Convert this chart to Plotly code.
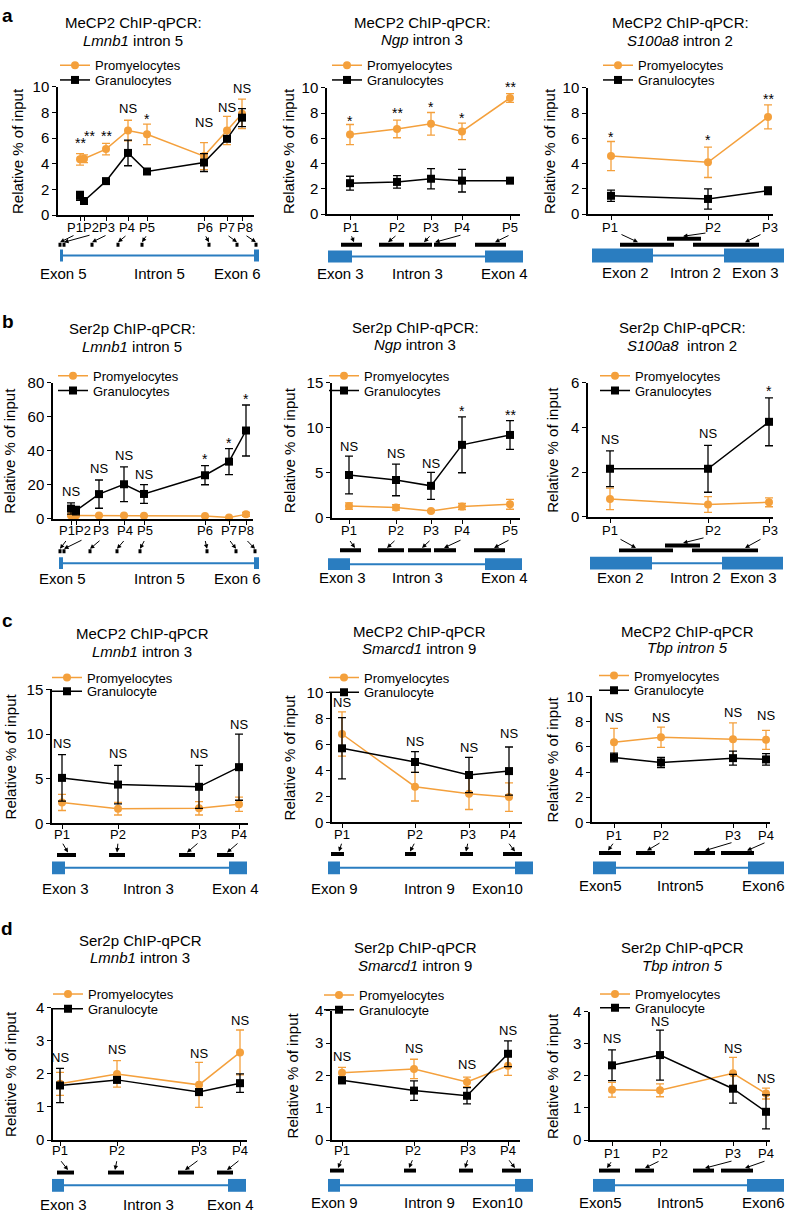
import plotly.graph_objects as go

FIG_W, FIG_H = 788, 1219
ORANGE = "#F4A03C"
BLACK = "#000000"
BLUE = "#2A7DC0"
FONT = "Liberation Sans, Arial, Helvetica, sans-serif"

# ======================= DATA =======================
# positions are probe positions along the locus (a.u.)
# ---- a1: MeCP2, Lmnb1 intron 5
a1_pos = [22, 26, 48, 70, 89, 146, 169, 184]
a1_label_x = [17, 33, 49, 69, 89, 147, 169, 187]
a1_promy = [4.35, 4.4, 5.15, 6.6, 6.3, 4.6, 6.6, 7.9]
a1_promy_err = [0.45, 0.3, 0.45, 0.8, 0.8, 1.05, 1.1, 1.15]
a1_gran = [1.5, 1.1, 2.65, 4.85, 3.4, 4.1, 5.95, 7.6]
a1_gran_err = [0.35, 0.2, 0.15, 1.0, 0.1, 0.7, 0.2, 0.7]
a1_sig = ["**", "**", "**", "NS", "*", "NS", "NS", "NS"]
a1_sig_x = [22, 31, 48, 70, 89, 146, 169, 184]
a1_sig_y = [5.9, 6.5, 6.45, 8.3, 7.8, 7.2, 8.4, 9.85]
a1_exon_start = [2, 196]
a1_exon_end = [5, 201]
a1_primer_start = [0.5, 4.5, 32.5, 58.5, 82.5, 149.5, 177.5, 196.5]
a1_primer_end = [3.5, 7.5, 35.5, 61.5, 85.5, 152.5, 180.5, 199.5]
a1_primer_y = [11, 11, 11, 11, 11, 11, 11, 11]
a1_arrow_x = [2, 6, 34, 60, 84, 151, 179, 198]
a1_exon_labels = ["Exon 5", "Intron 5", "Exon 6"]
a1_exon_label_x = [5, 101, 179]

# ---- a2: MeCP2, Ngp intron 3
a2_pos = [23, 70, 104, 135, 183]
a2_label_x = [24, 70, 104, 135, 183]
a2_promy = [6.3, 6.75, 7.15, 6.55, 9.2]
a2_promy_err = [0.8, 0.7, 0.9, 0.65, 0.35]
a2_gran = [2.45, 2.55, 2.8, 2.65, 2.65]
a2_gran_err = [0.55, 0.5, 0.8, 0.9, 0.05]
a2_sig = ["*", "**", "*", "*", "**"]
a2_sig_y = [7.7, 8.3, 8.8, 7.9, 10.4]
a2_exon_start = [1, 158]
a2_exon_end = [25, 196]
a2_primer_start = [14, 52, 82, 107, 148]
a2_primer_end = [35, 77, 105, 129, 179]
a2_primer_y = [12, 12, 12, 12, 12]
a2_arrow_x = [27, 61, 97, 108, 168]
a2_exon_labels = ["Exon 3", "Intron 3", "Exon 4"]
a2_exon_label_x = [13, 90, 177]

# ---- a3: MeCP2, S100a8 intron 2
a3_pos = [23, 120, 180]
a3_label_x = [22, 125, 182]
a3_promy = [4.6, 4.1, 7.7]
a3_promy_err = [1.15, 1.2, 0.95]
a3_gran = [1.45, 1.2, 1.85]
a3_gran_err = [0.45, 0.8, 0.3]
a3_sig = ["*", "*", "**"]
a3_sig_y = [6.4, 6.15, 9.4]
a3_exon_start = [4, 136]
a3_exon_end = [65, 196]
a3_primer_start = [32, 79, 105]
a3_primer_end = [86, 113, 171]
a3_primer_y = [11, 17, 11]
a3_arrow_x = [50, 95, 157]
a3_tail_x = [32, 119, 174]
a3_exon_labels = ["Exon 2", "Intron 2", "Exon 3"]
a3_exon_label_x = [37, 107, 167]

# ---- b1: Ser2p, Lmnb1 intron 5
b1_pos = [18, 23, 46, 71, 91, 152, 176, 193]
b1_label_x = [14, 30, 48, 72, 92, 152, 176, 193]
b1_promy = [2.0, 2.0, 1.9, 1.9, 1.8, 1.6, 0.8, 2.6]
b1_promy_err = [0.4, 0.4, 0.3, 0.3, 0.3, 0.3, 0.2, 1.2]
b1_gran = [6.0, 4.8, 14.5, 20.3, 14.6, 25.6, 33.6, 51.9]
b1_gran_err = [3.3, 2.5, 8.3, 10.2, 5.5, 5.6, 7.6, 15.0]
b1_sig = ["NS", "", "NS", "NS", "NS", "*", "*", "*"]
b1_sig_y = [16, 0, 29.5, 37, 26, 37.5, 47, 72.8]
b1_exon_start = [6, 201]
b1_exon_end = [10, 206]
b1_primer_start = [5.5, 9.5, 35.5, 62.5, 85.5, 152.5, 181.5, 200.5]
b1_primer_end = [8.5, 12.5, 38.5, 65.5, 88.5, 155.5, 184.5, 203.5]
b1_primer_y = [12, 12, 12, 12, 12, 12, 12, 12]
b1_arrow_x = [7, 11, 37, 64, 87, 154, 183, 202]
b1_exon_labels = ["Exon 5", "Intron 5", "Exon 6"]
b1_exon_label_x = [9, 106, 184]

# ---- b2: Ser2p, Ngp intron 3
b2_pos = [17, 64, 99, 130, 178]
b2_label_x = [17, 64, 99, 130, 178]
b2_promy = [1.3, 1.15, 0.75, 1.25, 1.5]
b2_promy_err = [0.35, 0.3, 0.1, 0.35, 0.55]
b2_gran = [4.75, 4.2, 3.55, 8.1, 9.2]
b2_gran_err = [2.1, 1.75, 1.5, 3.1, 1.6]
b2_sig = ["NS", "NS", "NS", "*", "**"]
b2_sig_y = [7.9, 7.1, 6.0, 12.3, 11.9]
b2_exon_start = [-4, 153]
b2_exon_end = [18, 190]
b2_primer_start = [8, 46, 76, 102, 142]
b2_primer_end = [29, 72, 99, 124, 173]
b2_primer_y = [14, 14, 14, 14, 14]
b2_arrow_x = [23, 55, 90, 112, 162]
b2_exon_labels = ["Exon 3", "Intron 3", "Exon 4"]
b2_exon_label_x = [10, 85, 172]

# ---- b3: Ser2p, S100a8 intron 2
b3_pos = [22, 120, 181]
b3_label_x = [22, 125, 182]
b3_promy = [0.8, 0.55, 0.65]
b3_promy_err = [0.48, 0.35, 0.2]
b3_gran = [2.15, 2.15, 4.25]
b3_gran_err = [0.8, 1.05, 1.07]
b3_sig = ["NS", "NS", "*"]
b3_sig_y = [3.45, 3.75, 5.8]
b3_exon_start = [2, 134]
b3_exon_end = [64, 195]
b3_primer_start = [31, 77, 104]
b3_primer_end = [85, 112, 170]
b3_primer_y = [13, 18, 13]
b3_arrow_x = [48, 95, 157]
b3_tail_x = [31, 117, 174]
b3_exon_labels = ["Exon 2", "Intron 2", "Exon 3"]
b3_exon_label_x = [32, 107, 165]

# ---- c1: MeCP2, Lmnb1 intron 3
c1_pos = [10, 66, 147, 187]
c1_label_x = [10, 66, 147, 187]
c1_promy = [2.35, 1.65, 1.7, 2.15]
c1_promy_err = [0.9, 0.7, 0.75, 0.8]
c1_gran = [5.1, 4.35, 4.1, 6.3]
c1_gran_err = [2.6, 2.15, 2.4, 3.7]
c1_sig = ["NS", "NS", "NS", "NS"]
c1_sig_y = [8.9, 7.8, 7.8, 11.1]
c1_exon_start = [0, 177]
c1_exon_end = [13, 195]
c1_primer_start = [5, 57, 127, 165]
c1_primer_end = [24, 73, 143, 182]
c1_primer_y = [13, 13, 13, 13]
c1_arrow_x = [16, 65, 135, 175]
c1_exon_labels = ["Exon 3", "Intron 3", "Exon 4"]
c1_exon_label_x = [13, 96, 183]

# ---- c2: MeCP2, Smarcd1 intron 9
c2_pos = [10, 83, 137, 177]
c2_label_x = [10, 83, 136, 176]
c2_promy = [6.8, 2.75, 2.2, 1.95]
c2_promy_err = [1.7, 1.1, 1.2, 1.1]
c2_gran = [5.7, 4.65, 3.65, 3.95]
c2_gran_err = [2.35, 0.8, 1.35, 1.85]
c2_sig = ["NS", "NS", "NS", "NS"]
c2_sig_y = [9.25, 6.25, 5.75, 6.85]
c2_exon_start = [-4, 183]
c2_exon_end = [8, 201]
c2_primer_start = [-1, 73, 128, 171]
c2_primer_end = [12, 84, 141, 190]
c2_primer_y = [14, 14, 14, 14]
c2_arrow_x = [7, 78, 134, 183]
c2_exon_labels = ["Exon 9", "Intron 9", "Exon10"]
c2_exon_label_x = [2, 97, 165]

# ---- c3: MeCP2, Tbp intron 5
c3_pos = [22, 69, 141, 174]
c3_label_x = [22, 69, 141, 174]
c3_promy = [6.35, 6.75, 6.6, 6.55]
c3_promy_err = [1.1, 0.8, 1.3, 0.75]
c3_gran = [5.15, 4.75, 5.1, 5.0]
c3_gran_err = [0.35, 0.4, 0.55, 0.45]
c3_sig = ["NS", "NS", "NS", "NS"]
c3_sig_y = [8.3, 8.3, 8.7, 8.5]
c3_exon_start = [1, 156]
c3_exon_end = [24, 192]
c3_primer_start = [7, 44, 102, 129]
c3_primer_end = [29, 63, 123, 162]
c3_primer_y = [15, 15, 15, 15]
c3_arrow_x = [16, 55, 113, 155]
c3_exon_labels = ["Exon5", "Intron5", "Exon6"]
c3_exon_label_x = [8, 88, 171]

# ---- d1: Ser2p, Lmnb1 intron 3
d1_pos = [7, 64, 146, 187]
d1_label_x = [7, 64, 146, 187]
d1_promy = [1.7, 2.0, 1.67, 2.65]
d1_promy_err = [0.35, 0.4, 0.68, 0.68]
d1_gran = [1.65, 1.82, 1.45, 1.72]
d1_gran_err = [0.52, 0.08, 0.1, 0.28]
d1_sig = ["NS", "NS", "NS", "NS"]
d1_sig_y = [2.5, 2.75, 2.62, 3.62]
d1_exon_start = [-1, 175]
d1_exon_end = [11, 193]
d1_primer_start = [4, 55, 125, 164]
d1_primer_end = [21, 71, 141, 180]
d1_primer_y = [13, 13, 13, 13]
d1_arrow_x = [15, 62, 132, 174]
d1_exon_labels = ["Exon 3", "Intron 3", "Exon 4"]
d1_exon_label_x = [10, 95, 177]

# ---- d2: Ser2p, Smarcd1 intron 9
d2_pos = [10, 82, 135, 176]
d2_label_x = [10, 81, 136, 176]
d2_promy = [2.08, 2.2, 1.8, 2.3]
d2_promy_err = [0.17, 0.3, 0.15, 0.3]
d2_gran = [1.85, 1.53, 1.37, 2.67]
d2_gran_err = [0.1, 0.3, 0.25, 0.4]
d2_sig = ["NS", "NS", "NS", "NS"]
d2_sig_y = [2.58, 2.84, 2.33, 3.4]
d2_exon_start = [-4, 183]
d2_exon_end = [8, 201]
d2_primer_start = [-2, 72, 127, 170]
d2_primer_end = [12, 84, 141, 189]
d2_primer_y = [15, 15, 15, 15]
d2_arrow_x = [6, 77, 133, 183]
d2_exon_labels = ["Exon 9", "Intron 9", "Exon10"]
d2_exon_label_x = [2, 97, 165]

# ---- d3: Ser2p, Tbp intron 5
d3_pos = [22, 70, 143, 176]
d3_label_x = [22, 70, 143, 176]
d3_promy = [1.57, 1.55, 2.08, 1.45]
d3_promy_err = [0.23, 0.2, 0.5, 0.17]
d3_gran = [2.33, 2.65, 1.6, 0.88]
d3_gran_err = [0.48, 0.78, 0.45, 0.53]
d3_sig = ["NS", "NS", "NS", "NS"]
d3_sig_y = [3.18, 3.71, 2.86, 1.91]
d3_exon_start = [3, 157]
d3_exon_end = [25, 194]
d3_primer_start = [9, 45, 103, 131]
d3_primer_end = [30, 64, 124, 163]
d3_primer_y = [15, 15, 15, 15]
d3_arrow_x = [17, 55, 115, 155]
d3_exon_labels = ["Exon5", "Intron5", "Exon6"]
d3_exon_label_x = [10, 90, 173]

# ======================= PANEL SETUP (layout in pixels) =======================
G = globals()


def panel(key, title1, title2, gran_name, geom):
    d = dict(key=key, title1=title1, title2=title2, gran_name=gran_name)
    for f in ["pos", "label_x", "promy", "promy_err", "gran", "gran_err", "sig", "sig_y",
              "exon_start", "exon_end", "primer_start", "primer_end", "primer_y",
              "arrow_x", "exon_labels", "exon_label_x"]:
        d[f] = G[f"{key}_{f}"]
    d["sig_x"] = G.get(f"{key}_sig_x", d["pos"])
    d["tail_x"] = G.get(f"{key}_tail_x", d["label_x"])
    d.update(geom)
    return d


P = [
    panel("a1", "MeCP2 ChIP-qPCR:", "<i>Lmnb1</i> intron 5", "Granulocytes",
          dict(x0=58, x1=254, top=79, bot=209, ymax=10, dtick=2, ytx=18, cx=133, ty=(14, 32),
               lx=95, ly=(57, 72), intron=250, lab_y=28, tail_y=21, elab_y=-18, eh=6)),
    panel("a2", "MeCP2 ChIP-qPCR:", "<i>Ngp</i> intron 3", "Granulocytes",
          dict(x0=327, x1=520, top=80, bot=208, ymax=10, dtick=2, ytx=289, cx=422, ty=(14, 31),
               lx=367, ly=(57, 72), intron=251, lab_y=29, tail_y=22, elab_y=-17, eh=6)),
    panel("a3", "MeCP2 ChIP-qPCR:", "<i>S100a8</i> intron 2", "Granulocytes",
          dict(x0=588, x1=773, top=80, bot=208, ymax=10, dtick=2, ytx=550, cx=680, ty=(14, 32),
               lx=638, ly=(57, 72), intron=250, lab_y=28, tail_y=22, elab_y=-17, eh=7)),
    panel("b1", "Ser2p ChIP-qPCR:", "<i>Lmnb1</i> intron 5", "Granulocytes",
          dict(x0=53, x1=253, top=379, bot=517, ymax=80, dtick=20, ytx=10, cx=132, ty=(324, 342),
               lx=93, ly=(372, 387), intron=562, lab_y=33, tail_y=24, elab_y=-16, eh=6)),
    panel("b2", "Ser2p ChIP-qPCR:", "<i>Ngp</i> intron 3", "Granulocytes",
          dict(x0=332, x1=520, top=379, bot=516, ymax=15, dtick=5, ytx=289, cx=415, ty=(323, 340),
               lx=364, ly=(372, 387), intron=563, lab_y=34, tail_y=25, elab_y=-14, eh=6)),
    panel("b3", "Ser2p ChIP-qPCR:", "<i>S100a8</i>  intron 2", "Granulocytes",
          dict(x0=588, x1=773, top=379, bot=515, ymax=6, dtick=2, ytx=553, cx=682, ty=(323, 341),
               lx=635, ly=(372, 387), intron=562, lab_y=33, tail_y=25, elab_y=-15, eh=6.5)),
    panel("c1", "MeCP2 ChIP-qPCR", "<i>Lmnb1</i> intron 3", "Granulocyte",
          dict(x0=52, x1=248, top=690, bot=826, ymax=15, dtick=5, ytx=10, cx=142, ty=(633, 652),
               lx=87, ly=(678, 692), intron=871, lab_y=34, tail_y=26, elab_y=-21, eh=6.5)),
    panel("c2", "MeCP2 ChIP-qPCR", "<i>Smarcd1</i> intron 9", "Granulocyte",
          dict(x0=332, x1=522, top=693, bot=825, ymax=10, dtick=2, ytx=289, cx=419, ty=(631, 649),
               lx=364, ly=(678, 693), intron=871, lab_y=34, tail_y=26, elab_y=-21, eh=6.5)),
    panel("c3", "MeCP2 ChIP-qPCR", "<i>Tbp intron 5</i>", "Granulocyte",
          dict(x0=592, x1=770, top=697, bot=825, ymax=10, dtick=2, ytx=552, cx=687, ty=(631, 648),
               lx=634, ly=(676, 691), intron=871, lab_y=33, tail_y=26, elab_y=-18, eh=6.5)),
    panel("d1", "Ser2p ChIP-qPCR", "<i>Lmnb1</i> intron 3", "Granulocyte",
          dict(x0=53, x1=247, top=1013, bot=1147, ymax=4, dtick=1, ytx=11, cx=140, ty=(945, 962),
               lx=88, ly=(999, 1014), intron=1193, lab_y=35, tail_y=26, elab_y=-19, eh=6.5)),
    panel("d2", "Ser2p ChIP-qPCR", "<i>Smarcd1</i> intron 9", "Granulocyte",
          dict(x0=332, x1=520, top=1016, bot=1147, ymax=4, dtick=1, ytx=292, cx=415, ty=(952, 970),
               lx=359, ly=(1000, 1015), intron=1193, lab_y=35, tail_y=27, elab_y=-17, eh=6.5)),
    panel("d3", "Ser2p ChIP-qPCR", "<i>Tbp intron 5</i>", "Granulocyte",
          dict(x0=590, x1=770, top=1017, bot=1147, ymax=4, dtick=1, ytx=553, cx=682, ty=(952, 970),
               lx=635, ly=(999, 1013), intron=1193, lab_y=32, tail_y=25, elab_y=-17, eh=6.5)),
]

LETTERS = [("a", 7, 7), ("b", 8, 317), ("c", 7, 620), ("d", 7, 932)]


def fx(p):
    return p / FIG_W


def fy(p):
    return 1 - p / FIG_H


def ax_key(kind, n):
    return kind + ("axis" if n == 1 else f"axis{n}")


def ax_ref(kind, n):
    return kind if n == 1 else f"{kind}{n}"


fig = go.Figure()
layout = {}
shapes = []
annotations = []

for i, p in enumerate(P):
    m = 2 * i + 1
    g = 2 * i + 2
    xr, yr = ax_ref("x", m), ax_ref("y", m)
    gxr, gyr = ax_ref("x", g), ax_ref("y", g)
    W = p["x1"] - p["x0"]
    leg1 = "legend" if i == 0 else f"legend{2 * i + 1}"
    leg2 = f"legend{2 * i + 2}"

    # ---- data traces
    fig.add_trace(go.Scatter(
        x=p["pos"], y=p["promy"], name="Promyelocytes", mode="lines+markers",
        line=dict(color=ORANGE, width=1.5),
        marker=dict(color=ORANGE, size=8, symbol="circle"),
        error_y=dict(type="data", array=p["promy_err"], color=ORANGE, thickness=1.3, width=4),
        xaxis=xr, yaxis=yr, cliponaxis=False, legend=leg1))
    fig.add_trace(go.Scatter(
        x=p["pos"], y=p["gran"], name=p["gran_name"], mode="lines+markers",
        line=dict(color=BLACK, width=1.5),
        marker=dict(color=BLACK, size=8, symbol="square"),
        error_y=dict(type="data", array=p["gran_err"], color=BLACK, thickness=1.3, width=4),
        xaxis=xr, yaxis=yr, cliponaxis=False, legend=leg2))

    for leg, ly in ((leg1, p["ly"][0]), (leg2, p["ly"][1])):
        layout[leg] = dict(x=fx(p["lx"] - 40), y=fy(ly), xanchor="left", yanchor="middle",
                           bgcolor="rgba(0,0,0,0)", borderwidth=0, itemwidth=30,
                           font=dict(size=13, family=FONT, color="black"), tracegroupgap=0)

    # ---- main axes
    layout[ax_key("x", m)] = dict(
        domain=[fx(p["x0"]), fx(p["x1"])], range=[0, W], anchor=yr,
        showline=True, linecolor="black", linewidth=1.5, ticks="outside", ticklen=4,
        tickwidth=1.3, tickcolor="black", tickvals=p["pos"], ticktext=[""] * len(p["pos"]),
        showgrid=False, zeroline=False, fixedrange=True)
    layout[ax_key("y", m)] = dict(
        domain=[fy(p["bot"]), fy(p["top"])], range=[0, p["ymax"]], anchor=xr,
        tick0=0, dtick=p["dtick"], showline=True, linecolor="black", linewidth=1.5,
        ticks="outside", ticklen=4, tickwidth=1.3, tickcolor="black",
        tickfont=dict(size=15, family=FONT, color="black"),
        showgrid=False, zeroline=False, fixedrange=True)

    # ---- gene-diagram axes (1 unit = 1 px)
    gx_min, gx_max = -10, min(212, FIG_W - 1 - p["x0"])
    gtop = p["intron"] - 44
    gbot = min(p["intron"] + 26, FIG_H)
    layout[ax_key("x", g)] = dict(domain=[fx(p["x0"] + gx_min), fx(p["x0"] + gx_max)],
                                  range=[gx_min, gx_max], anchor=gyr, visible=False, fixedrange=True)
    layout[ax_key("y", g)] = dict(domain=[fy(gbot), fy(gtop)],
                                  range=[p["intron"] - gbot, p["intron"] - gtop],
                                  anchor=gxr, visible=False, fixedrange=True)

    # intron line
    shapes.append(dict(type="line", xref=gxr, yref=gyr, x0=p["exon_end"][0], x1=p["exon_start"][1],
                       y0=0, y1=0, line=dict(color=BLUE, width=2)))
    # exons
    for s, e in zip(p["exon_start"], p["exon_end"]):
        shapes.append(dict(type="rect", xref=gxr, yref=gyr, x0=s, x1=e, y0=-p["eh"], y1=p["eh"],
                           fillcolor=BLUE, line=dict(width=0)))
    # primers
    for s, e, py in zip(p["primer_start"], p["primer_end"], p["primer_y"]):
        shapes.append(dict(type="rect", xref=gxr, yref=gyr, x0=s, x1=e, y0=py - 2, y1=py + 2,
                           fillcolor="black", line=dict(width=0)))
    # primer labels and arrows
    for k, lx in enumerate(p["label_x"]):
        annotations.append(dict(text=f"P{k + 1}", x=lx, y=p["lab_y"], xref=gxr, yref=gyr,
                                showarrow=False, xanchor="center", yanchor="middle",
                                font=dict(size=13, family=FONT, color="black")))
        annotations.append(dict(text="", x=p["arrow_x"][k], y=p["primer_y"][k] + 2.5,
                                ax=p["tail_x"][k], ay=p["tail_y"] if p["primer_y"][k] < 16 else p["tail_y"] + 1,
                                xref=gxr, yref=gyr, axref=gxr, ayref=gyr,
                                showarrow=True, arrowhead=2, arrowsize=0.9, arrowwidth=1,
                                arrowcolor="black", standoff=0, startstandoff=0))
    for t, ex in zip(p["exon_labels"], p["exon_label_x"]):
        annotations.append(dict(text=t, x=ex, y=p["elab_y"], xref=gxr, yref=gyr, showarrow=False,
                                xanchor="center", yanchor="middle",
                                font=dict(size=15, family=FONT, color="black")))

    # significance labels (y given in data units, placed on the axis-domain scale so
    # labels above the top of the range stay visible)
    for t, sx, sy in zip(p["sig"], p["sig_x"], p["sig_y"]):
        if not t:
            continue
        annotations.append(dict(text=t, x=sx, y=sy / p["ymax"], xref=xr, yref=f"{yr} domain",
                                showarrow=False, xanchor="center", yanchor="middle",
                                yshift=-4 if "*" in t else 0,
                                font=dict(size=14 if "*" in t else 13, family=FONT, color="black")))

    # titles
    annotations.append(dict(text=p["title1"], x=fx(p["cx"]), y=fy(p["ty"][0]), xref="paper", yref="paper",
                            showarrow=False, xanchor="center", yanchor="middle",
                            font=dict(size=15, family=FONT, color="black")))
    annotations.append(dict(text=p["title2"], x=fx(p["cx"]), y=fy(p["ty"][1]), xref="paper", yref="paper",
                            showarrow=False, xanchor="center", yanchor="middle",
                            font=dict(size=15, family=FONT, color="black")))
    # y-axis title
    annotations.append(dict(text="Relative % of input", x=fx(p["ytx"]), y=fy((p["top"] + p["bot"]) / 2),
                            xref="paper", yref="paper", showarrow=False, textangle=-90,
                            xanchor="center", yanchor="middle",
                            font=dict(size=15, family=FONT, color="black")))

for letter, lxp, lyp in LETTERS:
    annotations.append(dict(text=f"<b>{letter}</b>", x=fx(lxp), y=fy(lyp), xref="paper", yref="paper",
                            showarrow=False, xanchor="center", yanchor="middle",
                            font=dict(size=19, family=FONT, color="black")))

fig.update_layout(
    width=FIG_W, height=FIG_H, margin=dict(l=0, r=0, t=0, b=0),
    paper_bgcolor="white", plot_bgcolor="rgba(0,0,0,0)",
    font=dict(family=FONT, color="black"),
    showlegend=True, shapes=shapes, annotations=annotations, **layout)

fig.write_html("out.html", config={"displayModeBar": False},
               post_script="document.body.style.margin='0px';document.body.style.overflow='hidden';")
